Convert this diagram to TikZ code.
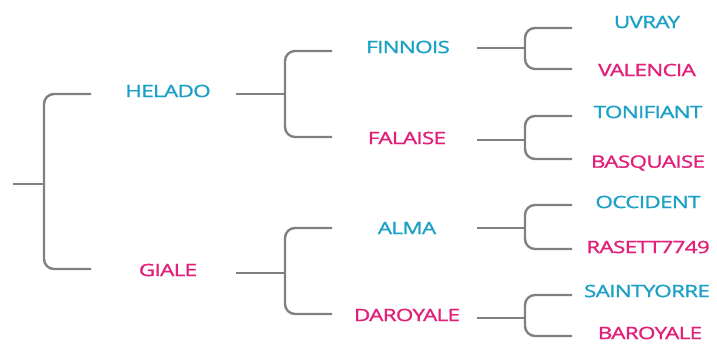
\documentclass[tikz,border=0pt]{standalone}
\usepackage{fontspec}
\setmainfont{Open Sans}
\newfontfamily\labelfont{Open Sans}[FakeBold=1.2,LetterSpace=-3]
\usepackage{tikz}
\definecolor{labelcyan}{RGB}{28,160,198}
\definecolor{labelpink}{RGB}{226,32,122}
\definecolor{linegray}{RGB}{128,128,128}
\tikzset{
    cyanlabel/.style={text=labelcyan,font=\labelfont\fontsize{17}{20}\selectfont,inner sep=0pt,xscale=1.32},
    pinklabel/.style={text=labelpink,font=\labelfont\fontsize{17}{20}\selectfont,inner sep=0pt,xscale=1.32},
    branch/.style={draw=linegray,line width=2.4pt,rounded corners=10pt},
}

\begin{document}
\begin{tikzpicture}[x=1pt,y=-1pt]
\useasboundingbox (0,0) rectangle (717,344);
% labels
\node[cyanlabel](helado) at (168,91) {HELADO};
\node[pinklabel](giale) at (168,270) {GIALE};
\node[cyanlabel](finnois) at (408,47) {FINNOIS};
\node[pinklabel](falaise) at (407,138) {FALAISE};
\node[cyanlabel](alma) at (407,228) {ALMA};
\node[pinklabel](daroyale) at (407,315) {DAROYALE};
\node[cyanlabel](uvray) at (647,22) {UVRAY};
\node[pinklabel](valencia) at (647,70) {VALENCIA};
\node[cyanlabel](tonifiant) at (648,112) {TONIFIANT};
\node[pinklabel](basquaise) at (648,163) {BASQUAISE};
\node[cyanlabel](occident) at (648,202) {OCCIDENT};
\node[pinklabel](rasett) at (648,247) {RASETT7749};
\node[cyanlabel](saintyorre) at (647,291) {SAINTYORRE};
\node[pinklabel](baroyale) at (650,333) {BAROYALE};
% forks
\coordinate (root-s) at (13,184);
\coordinate (root-f) at (44,184);
\coordinate (root-t) at (91,94);
\coordinate (root-b) at (91,269);
\coordinate (helado-s) at (236,94);
\coordinate (helado-f) at (285,94);
\coordinate (helado-t) at (332,51);
\coordinate (helado-b) at (332,137);
\coordinate (giale-s) at (236,273);
\coordinate (giale-f) at (285,273);
\coordinate (giale-t) at (332,228);
\coordinate (giale-b) at (332,314);
\coordinate (finnois-s) at (477,48);
\coordinate (finnois-f) at (525,48);
\coordinate (finnois-t) at (572,28);
\coordinate (finnois-b) at (572,69);
\coordinate (falaise-s) at (477,140);
\coordinate (falaise-f) at (525,140);
\coordinate (falaise-t) at (572,116);
\coordinate (falaise-b) at (572,159);
\coordinate (alma-s) at (477,228);
\coordinate (alma-f) at (525,228);
\coordinate (alma-t) at (572,205);
\coordinate (alma-b) at (572,249);
\coordinate (daroyale-s) at (477,318);
\coordinate (daroyale-f) at (525,318);
\coordinate (daroyale-t) at (572,295);
\coordinate (daroyale-b) at (572,336);
\foreach \f in {root,helado,giale,finnois,falaise,alma,daroyale}{
    \draw[branch] (\f-s) -- (\f-f);
    \draw[branch] (\f-t) -| (\f-f) |- (\f-b);
}
\end{tikzpicture}
\end{document}
